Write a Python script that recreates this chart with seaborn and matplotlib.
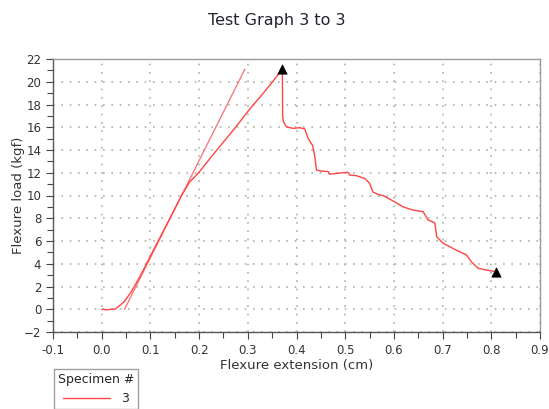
import matplotlib
matplotlib.use("Agg")
import matplotlib.pyplot as plt
import seaborn as sns
import pandas as pd
from matplotlib.lines import Line2D
from matplotlib.ticker import MultipleLocator

# ---- data ----
extension = [0.0, 0.01, 0.02, 0.027, 0.035, 0.047, 0.06, 0.071, 0.085, 0.099,
             0.119, 0.14, 0.164, 0.18, 0.201, 0.225, 0.25, 0.275, 0.304, 0.33,
             0.35, 0.371, 0.3715, 0.373, 0.379, 0.393, 0.407, 0.417, 0.424, 0.433,
             0.437, 0.441, 0.451, 0.465, 0.468, 0.482, 0.506, 0.509, 0.523, 0.540,
             0.550, 0.557, 0.571, 0.578, 0.601, 0.619, 0.639, 0.660, 0.670, 0.684,
             0.688, 0.701, 0.728, 0.749, 0.759, 0.773, 0.797, 0.809]
load = [0.0, -0.05, 0.0, 0.0, 0.25, 0.7, 1.5, 2.3, 3.4, 4.6,
        6.25, 8.0, 10.0, 11.15, 12.1, 13.4, 14.7, 16.0, 17.6, 18.9,
        19.95, 21.1, 17.0, 16.5, 16.05, 15.9, 15.96, 15.85, 15.0, 14.4,
        13.6, 12.24, 12.15, 12.1, 11.87, 11.95, 12.04, 11.8, 11.74, 11.5,
        11.07, 10.3, 10.04, 10.0, 9.45, 9.0, 8.72, 8.58, 7.85, 7.6,
        6.37, 5.8, 5.2, 4.77, 4.18, 3.6, 3.39, 3.3]

tangent_ext = [0.047, 0.294]
tangent_load = [0.0, 21.1]

marker_ext = [0.371, 0.809]
marker_load = [21.1, 3.3]

title = "Test Graph 3 to 3"
xlabel = "Flexure extension (cm)"
ylabel = "Flexure load (kgf)"
legend_title = "Specimen #"
specimen = "3"

curve = pd.DataFrame({"ext": extension, "load": load})
tangent = pd.DataFrame({"ext": tangent_ext, "load": tangent_load})
marks = pd.DataFrame({"ext": marker_ext, "load": marker_load})

sns.set_style("white")
plt.rcParams["font.family"] = ["DejaVu Sans"]

fig = plt.figure(figsize=(5.49, 4.09), dpi=100)
ax = fig.add_axes([53 / 549, 1 - 332 / 409, (540 - 53) / 549, (332 - 59) / 409])

red = "#ff4444"
sns.lineplot(data=tangent, x="ext", y="load", ax=ax, color="#ff6e6e",
             linewidth=0.9, sort=False, estimator=None)
sns.lineplot(data=curve, x="ext", y="load", ax=ax, color=red,
             linewidth=1.0, sort=False, estimator=None)
sns.scatterplot(data=marks, x="ext", y="load", ax=ax, marker="^", color="black",
                s=45, edgecolor="black", linewidth=0.5, zorder=5)

ax.set_xlim(-0.1, 0.9)
ax.set_ylim(-2, 22)
ax.xaxis.set_major_locator(MultipleLocator(0.1))
ax.xaxis.set_minor_locator(MultipleLocator(0.05))
ax.yaxis.set_major_locator(MultipleLocator(2))
ax.yaxis.set_minor_locator(MultipleLocator(1))
ax.set_xticklabels([f"{v:.1f}" for v in ax.get_xticks()])
ax.set_xlim(-0.1, 0.9)

ax.grid(True, which="major", color="#b0b09c", linestyle=(0, (1, 4)), linewidth=1.2)
ax.tick_params(which="major", direction="out", length=5, width=0.8,
               colors="#444444", labelsize=8.5, labelcolor="#333333",
               left=True, bottom=True)
ax.tick_params(which="minor", direction="out", length=4, width=0.8,
               colors="#444444", left=True, bottom=True)

for side in ("left", "bottom"):
    ax.spines[side].set_color("#555555")
for side in ("top", "right"):
    ax.spines[side].set_color("#9a9a9a")
for s in ax.spines.values():
    s.set_linewidth(1.0)
    s.set_visible(True)

ax.set_xlabel(xlabel, fontsize=9.5, color="#333333")
ax.set_ylabel(ylabel, fontsize=9.5, color="#333333")
ax.xaxis.set_label_coords(0.501, -0.1)
ax.yaxis.set_label_coords(-0.058, 0.5)

fig.text(0.505, 1 - 20 / 409, title, ha="center", va="center",
         fontsize=11.5, color="#222233")

handle = Line2D([0], [0], color=red, linewidth=1.0)
leg = fig.legend([handle], [specimen], title=legend_title,
                 loc="upper left", bbox_to_anchor=(54 / 549, 1 - 369 / 409),
                 frameon=True, fancybox=False, edgecolor="#888888",
                 fontsize=9, title_fontsize=9, handlelength=3.8,
                 handletextpad=0.9, borderpad=0.3, borderaxespad=0)
leg.get_frame().set_linewidth(1.0)

fig.savefig("out.png", dpi=100)
